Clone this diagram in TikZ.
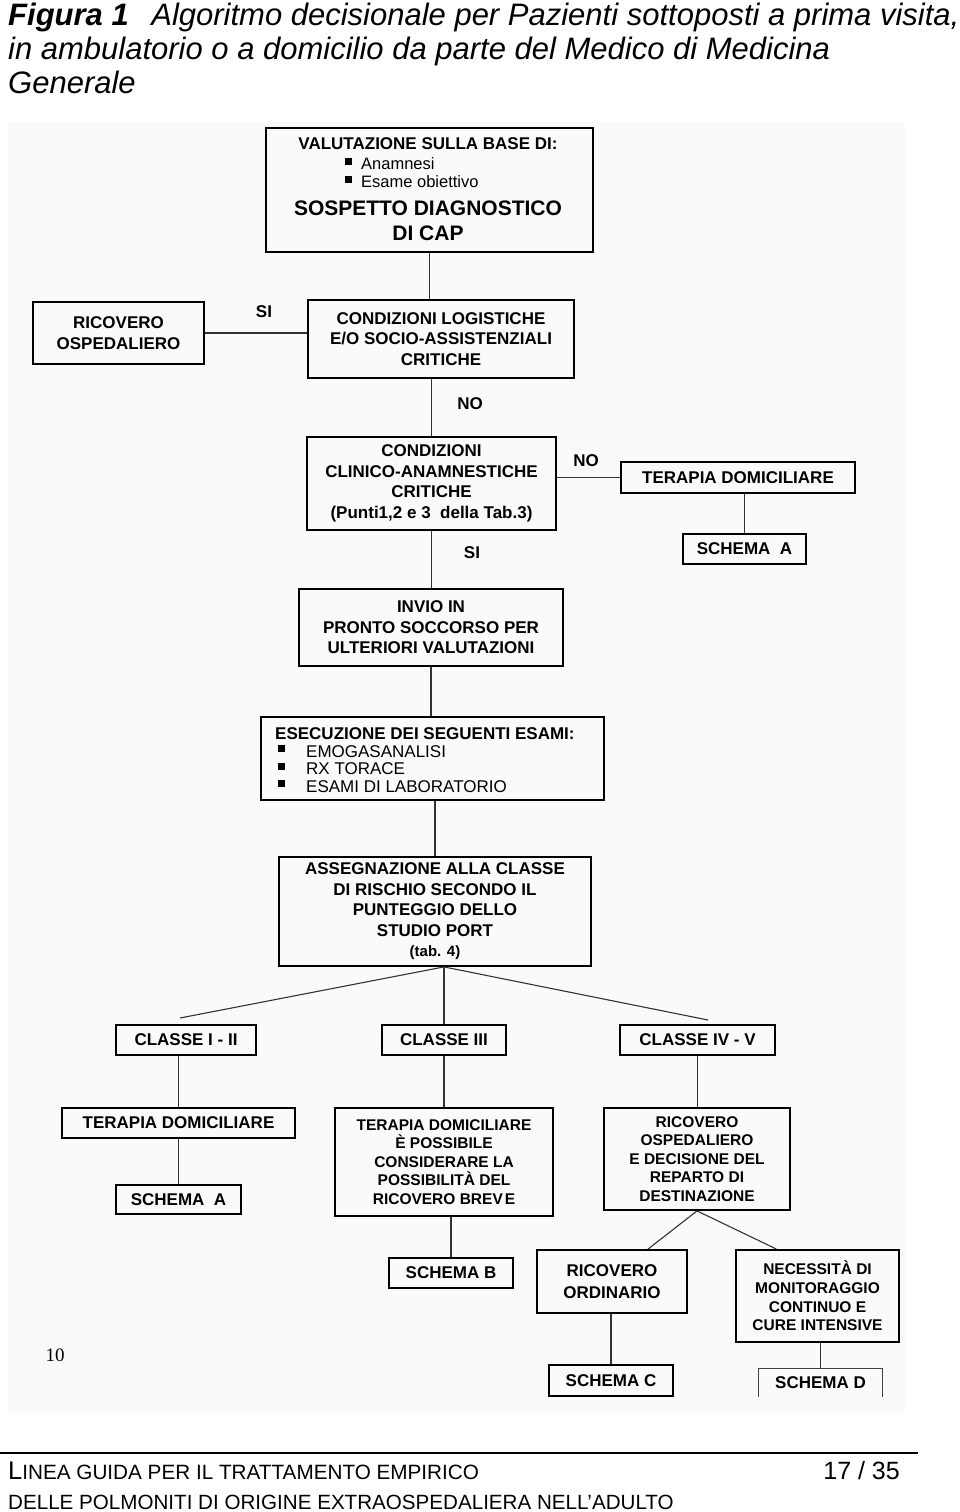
\documentclass[tikz,border=0pt]{standalone}
\usepackage{fontspec}
\setmainfont{Liberation Sans}
\newfontfamily\serifnum{Liberation Serif}
\usetikzlibrary{calc}

\newcommand{\boxfont}{\bfseries\fontsize{17}{20.5}\selectfont}
\newcommand{\smallbox}{\bfseries\fontsize{15.5}{18.4}\selectfont}
\newcommand{\sqbul}[1]{\raisebox{#1}{\rule{7pt}{7pt}}}

\tikzset{
  box/.style={draw, line width=1.8pt, inner sep=0pt, align=center, font=\boxfont},
  link/.style={line width=1.1pt, black!80},
  lbl/.style={inner sep=0pt, font=\boxfont},
}

\begin{document}
\begin{tikzpicture}[x=1pt,y=-1pt]
  \useasboundingbox (0,0) rectangle (960,1512);
  \fill[black!2] (8,122) rectangle (905,1415);

  % title
  \node[anchor=north west, align=left, inner sep=0pt, font=\itshape\fontsize{31}{34}\selectfont] (title) at (8,3)
    {\textbf{Figura 1}\hspace{0.45em} Algoritmo decisionale per Pazienti sottoposti a prima visita,\\
     in ambulatorio o a domicilio da parte del Medico di Medicina\\
     Generale};

  % first assessment
  \node[box, minimum width=327, minimum height=124] (valut) at (429.5,190) {};
  \node[lbl] (valuthead) at (428,144) {VALUTAZIONE SULLA BASE DI:};
  \node[anchor=north west, align=left, inner sep=0pt, font=\fontsize{16.5}{18}\selectfont] (valutlist) at (345,157)
    {\sqbul{4.5pt}\hspace{9pt}Anamnesi\\ \sqbul{4.5pt}\hspace{9pt}Esame obiettivo};
  \node[lbl, align=center, font=\bfseries\fontsize{21}{25}\selectfont] (valutsosp) at (428,221) {SOSPETTO DIAGNOSTICO\\DI CAP};

  \node[box, minimum width=266, minimum height=78] (logist) at (441,339) {CONDIZIONI LOGISTICHE\\E/O SOCIO-ASSISTENZIALI\\CRITICHE};
  \node[box, minimum width=171, minimum height=62] (ricov1) at (118.5,333) {RICOVERO\\OSPEDALIERO};
  \node[box, minimum width=249, minimum height=93] (clinic) at (431.5,483.5) {CONDIZIONI\\CLINICO-ANAMNESTICHE\\CRITICHE\\(Punti1,2 e 3\ \ della Tab.3)};
  \node[box, minimum width=234, minimum height=31] (terdom1) at (738,477.5) {TERAPIA DOMICILIARE};
  \node[box, minimum width=123, minimum height=30] (schemaA1) at (744.5,549) {SCHEMA\ \ A};
  \node[box, minimum width=264, minimum height=77] (invio) at (431,627.5) {INVIO IN\\PRONTO SOCCORSO PER\\ULTERIORI VALUTAZIONI};

  \node[box, minimum width=343, minimum height=83] (esami) at (432.5,758.5) {};
  \node[lbl, anchor=west] (esamihead) at (275,734) {ESECUZIONE DEI SEGUENTI ESAMI:};
  \node[anchor=north west, align=left, inner sep=0pt, font=\fontsize{17}{17.5}\selectfont] (esamilist) at (278,745)
    {\sqbul{5pt}\hspace{21pt}EMOGASANALISI\\ \sqbul{5pt}\hspace{21pt}RX TORACE\\ \sqbul{5pt}\hspace{21pt}ESAMI DI LABORATORIO};

  \node[box, minimum width=312, minimum height=109] (assegn) at (435,911.5)
    {ASSEGNAZIONE ALLA CLASSE\\DI RISCHIO SECONDO IL\\PUNTEGGIO DELLO\\STUDIO PORT\\{\fontsize{15}{20}\selectfont(tab. 4)}};

  % risk classes
  \node[box, minimum width=140, minimum height=30] (classe12) at (186,1040) {CLASSE I - II};
  \node[box, minimum width=124, minimum height=30] (classe3) at (444,1040) {CLASSE III};
  \node[box, minimum width=155, minimum height=30] (classe45) at (697.5,1040) {CLASSE IV - V};

  \node[box, minimum width=233, minimum height=30] (terdom2) at (178.5,1123) {TERAPIA DOMICILIARE};
  \node[box, minimum width=125, minimum height=29] (schemaA2) at (178.5,1199.5) {SCHEMA\ \ A};
  \node[box, font=\smallbox, minimum width=218, minimum height=108] (terposs) at (444,1162)
    {TERAPIA DOMICILIARE\\È POSSIBILE\\CONSIDERARE LA\\POSSIBILITÀ DEL\\RICOVERO BREV\hspace{2pt}E};
  \node[box, font=\smallbox, minimum width=186, minimum height=102] (ricov2) at (697,1159)
    {RICOVERO\\OSPEDALIERO\\E DECISIONE DEL\\REPARTO DI\\DESTINAZIONE};
  \node[box, minimum width=124, minimum height=30] (schemaB) at (451,1273) {SCHEMA B};
  \node[box, font=\bfseries\fontsize{17}{22}\selectfont, minimum width=150, minimum height=63] (ordin) at (612,1281.5) {RICOVERO\\ORDINARIO};
  \node[box, font=\bfseries\fontsize{15.5}{18.7}\selectfont, minimum width=163, minimum height=92] (intens) at (817.5,1296)
    {NECESSITÀ DI\\MONITORAGGIO\\CONTINUO E\\CURE INTENSIVE};
  \node[box, minimum width=124, minimum height=31] (schemaC) at (611,1380.5) {SCHEMA C};
  \node[lbl, minimum width=123, minimum height=28] (schemaD) at (820.5,1383) {SCHEMA D};
  \draw[line width=1.3pt, black!75] (schemaD.south west) -- (schemaD.north west) -- (schemaD.north east) -- (schemaD.south east);

  % answers
  \node[lbl] (si1) at (264,312) {SI};
  \node[lbl] (no1) at (470,404) {NO};
  \node[lbl] (no2) at (586,461) {NO};
  \node[lbl] (si2) at (472,553) {SI};

  % connectors
  \draw[link] (valut.south) -- (valut.south |- logist.north);
  \draw[link] (ricov1.east) -- (ricov1.east -| logist.west);
  \draw[link] (clinic.north |- logist.south) -- (clinic.north);
  \draw[link] (terdom1.west -| clinic.east) -- (terdom1.west);
  \draw[link] (schemaA1.north |- terdom1.south) -- (schemaA1.north);
  \draw[link] (clinic.south) -- (clinic.south |- invio.north);
  \draw[link] (invio.south) -- (invio.south |- esami.north);
  \draw[link] (assegn.north |- esami.south) -- (assegn.north);
  \coordinate (apex) at (classe3.north |- assegn.south);
  \coordinate (fanL) at (180,1018);
  \coordinate (fanR) at (708,1020);
  \draw[link] (fanL) -- (apex) -- (fanR);
  \draw[link] (apex) -- (classe3.north);
  \draw[link] (terdom2.north |- classe12.south) -- (terdom2.north);
  \draw[link] (classe3.south) -- (terposs.north);
  \draw[link] (classe45.south) -- (classe45.south |- ricov2.north);
  \draw[link] (terdom2.south) -- (schemaA2.north);
  \draw[link] (schemaB.north |- terposs.south) -- (schemaB.north);
  \draw[link] (ricov2.south) -- ([xshift=36pt]ordin.north);
  \draw[link] (ricov2.south) -- ([xshift=-41pt]intens.north);
  \draw[link] (schemaC.north |- ordin.south) -- (schemaC.north);
  \draw[link] (schemaD.north |- intens.south) -- (schemaD.north);

  \node[font=\serifnum\fontsize{19}{19}\selectfont] (pagenum) at (55,1355) {10};

  % footer
  \draw[line width=2.5pt] (0,1453) -- (918,1453);
  \node[anchor=base west, inner sep=0pt] (foot1) at (8,1479)
    {{\fontsize{25.5}{25.5}\selectfont L}{\fontsize{20.7}{20.7}\selectfont INEA GUIDA PER IL TRATTAMENTO EMPIRICO}};
  \node[anchor=base west, inner sep=0pt, font=\fontsize{20.6}{20.6}\selectfont] (foot2) at (8,1509)
    {DELLE POLMONITI DI ORIGINE EXTRAOSPEDALIERA NELL’ADULTO};
  \node[anchor=base east, inner sep=0pt, font=\fontsize{25}{25}\selectfont] (pages) at (900,1479) {17 / 35};
\end{tikzpicture}
\end{document}
